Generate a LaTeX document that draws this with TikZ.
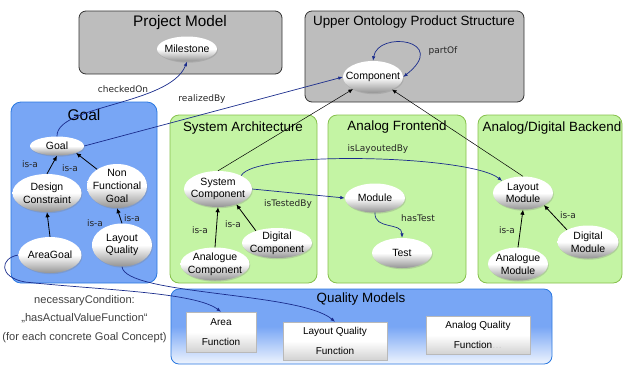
\documentclass[tikz,border=0pt]{standalone}
\usepackage{fontspec}
\setmainfont{Liberation Sans}
\newfontfamily\lblfont{DejaVu Sans}
\usetikzlibrary{shapes.geometric,arrows.meta,shadows}

\definecolor{grisCaja}{HTML}{BDBDBD}
\definecolor{azulMeta}{HTML}{78A6F5}
\definecolor{azulBorde}{HTML}{2A78E0}
\definecolor{verdeCaja}{HTML}{C4F4A4}
\definecolor{verdeBorde}{HTML}{86C04C}
\definecolor{azulFlecha}{HTML}{1A2C8C}

\tikzset{
  concepto/.style={ellipse, inner sep=-30pt, align=center,
    top color=white, bottom color=black!42, middle color=white,
    drop shadow={shadow xshift=0.8pt, shadow yshift=-1.2pt, opacity=0.3},
    font=\fontsize{10.5}{12.8}\selectfont},
  funcion/.style={rectangle, draw=gray!55, align=center, inner sep=0pt,
    top color=white, bottom color=gray!35, middle color=white,
    drop shadow={shadow xshift=1pt, shadow yshift=-1.2pt, opacity=0.35},
    font=\fontsize{10}{20}\selectfont},
  cajaGris/.style={draw=black!80, fill=grisCaja, rounded corners=7pt, line width=0.8pt},
  cajaVerde/.style={draw=verdeBorde, fill=verdeCaja, rounded corners=9pt, line width=0.8pt},
  titulo/.style={font=\fontsize{13.4}{15}\selectfont},
  etiq/.style={font=\lblfont\fontsize{9}{10}\selectfont, text=black!85, inner sep=1pt},
  nota/.style={font=\fontsize{11.1}{18.5}\selectfont, text=black!75, align=center},
  esun/.style={draw=black, line width=0.8pt, -{Latex[length=5pt,width=4.5pt]}},
  hacia/.style={draw=black, line width=0.5pt, -{Latex[length=4.5pt,width=4pt]}},
  rel/.style={draw=azulFlecha, line width=0.7pt, -{Latex[length=4.5pt,width=3.5pt]}},
}

\begin{document}
\begin{tikzpicture}[x=1pt,y=-1pt]
  \useasboundingbox (0,0) rectangle (623,365);

  % Cajas
  \draw[cajaGris] (79,11) rectangle (282,74);
  \draw[cajaGris] (305,11) rectangle (524,102);
  \draw[draw=azulBorde, fill=azulMeta, rounded corners=10pt, line width=0.8pt] (11,102) rectangle (157,283);
  \draw[cajaVerde] (170,115) rectangle (317,283);
  \draw[cajaVerde] (328,115) rectangle (466,283);
  \draw[cajaVerde] (478,115) rectangle (622,283);
  \draw[draw=azulBorde, top color=azulMeta, bottom color=azulMeta!12, middle color=azulMeta,
    rounded corners=8pt, line width=0.8pt] (171,289) rectangle (552,364);

  \node[font=\fontsize{15.3}{17}\selectfont] (tPM) at (180,23) {Project Model};
  \node[titulo] (tUO) at (414,22) {Upper Ontology Product Structure};
  \node[font=\fontsize{15.5}{17}\selectfont] (tGoal) at (84,115) {Goal};
  \node[titulo] (tSA) at (243,128) {System Architecture};
  \node[titulo] (tAF) at (397,127) {Analog Frontend};
  \node[titulo] (tAD) at (552,128) {Analog/Digital Backend};
  \node[titulo] (tQM) at (361,299) {Quality Models};

  % Nodos
  \node[concepto, minimum width=60pt, minimum height=25pt] (mile) at (187,49) {Milestone};
  \node[concepto, minimum width=60pt, minimum height=32pt] (comp) at (373,77) {Component};

  \node[concepto, minimum width=54pt, minimum height=19pt] (goal) at (57,146) {Goal};
  \node[concepto, minimum width=69pt, minimum height=38pt] (dc) at (47,193) {Design\\Constraint};
  \node[concepto, minimum width=60pt, minimum height=44pt] (nfg) at (117,186) {Non\\Functional\\Goal};
  \node[concepto, minimum width=63pt, minimum height=36pt] (ag) at (50,255) {AreaGoal};
  \node[concepto, minimum width=60pt, minimum height=43pt] (lq) at (122,245) {Layout\\Quality};

  \node[concepto, minimum width=68pt, minimum height=36pt] (sysc) at (218,189) {System\\Component};
  \node[concepto, minimum width=70pt, minimum height=30pt] (digc) at (277,243) {Digital\\Component};
  \node[concepto, minimum width=69pt, minimum height=33pt] (anac) at (215,264) {Analogue\\Component};

  \node[concepto, minimum width=60pt, minimum height=29pt] (mod) at (375,198) {Module};
  \node[concepto, minimum width=60pt, minimum height=30pt] (test) at (402,253) {Test};

  \node[concepto, minimum width=60pt, minimum height=33pt] (laym) at (523,193) {Layout\\Module};
  \node[concepto, minimum width=61pt, minimum height=33pt] (digm) at (588,242) {Digital\\Module};
  \node[concepto, minimum width=60pt, minimum height=33pt] (anam) at (518,264) {Analogue\\Module};

  \node[funcion, minimum width=70pt, minimum height=40pt] (areaf) at (221,332) {Area\\Function};
  \node[funcion, minimum width=104pt, minimum height=38pt] (lqf) at (335,341) {Layout Quality\\Function};
  \node[funcion, minimum width=104pt, minimum height=38pt] (aqf) at (478,335)
    {Analog Quality\\Function{\color{gray!40}\ldots}};

  \node[nota] (cond) at (84.5,319) {necessaryCondition:\\„hasActualValueFunction“\\(for each concrete Goal Concept)};

  % Aristas
  \draw[esun] (dc.north) -- (goal.south);
  \draw[esun] (nfg.140) -- (goal.-20);
  \draw[esun] (ag.north) -- (dc.south);
  \draw[esun] (lq.north) -- (nfg.south);
  \draw[esun] (anac.north) -- (sysc.south);
  \draw[esun] (digc.150) -- (sysc.-40);
  \draw[esun] (anam.north) -- (laym.south);
  \draw[esun] (digm.150) -- (laym.-30);

  \draw[hacia] (sysc.north) -- (comp);
  \draw[hacia] (laym.north) -- (comp);

  \draw[rel] (goal.north) .. controls (56,105) and (170,105) .. (mile.south);
  \draw[rel] (goal.east) -- (comp.west);
  \draw[rel, {Latex[length=4.5pt,width=3.5pt]}-{Latex[length=4.5pt,width=3.5pt]}]
    (comp.north) .. controls (378,30) and (450,40) .. (comp.east);
  \draw[rel] (sysc.30) .. controls (255,150) and (470,155) .. (laym.150);
  \draw[rel] (sysc.east) -- (mod.west);
  \draw[rel] (mod.south) .. controls (374,230) and (402,222) .. (test.north);
  \draw[rel] (ag.west) .. controls (0,258) and (-2,277) .. (25,282)
    .. controls (100,290) and (195,292) .. (areaf.north);
  \draw[rel] (lq.south) .. controls (125,295) and (300,292) .. (lqf.north);

  % Etiquetas
  \node[etiq] (lChecked) at (123,89) {checkedOn};
  \node[etiq] (lRealized) at (202,99) {realizedBy};
  \node[etiq] (lPartOf) at (443,51) {partOf};
  \node[etiq] (lIsa1) at (30,164) {is-a};
  \node[etiq] (lIsa2) at (70,168) {is-a};
  \node[etiq] (lIsa3) at (95,223) {is-a};
  \node[etiq] (lIsa4) at (132,218) {is-a};
  \node[etiq] (lLayouted) at (378,149) {isLayoutedBy};
  \node[etiq] (lTested) at (288,204) {isTestedBy};
  \node[etiq] (lIsa5) at (200,230) {is-a};
  \node[etiq] (lIsa6) at (233,224) {is-a};
  \node[etiq] (lHasTest) at (418,218) {hasTest};
  \node[etiq] (lIsa7) at (507,230) {is-a};
  \node[etiq] (lIsa8) at (568,215) {is-a};
\end{tikzpicture}
\end{document}
